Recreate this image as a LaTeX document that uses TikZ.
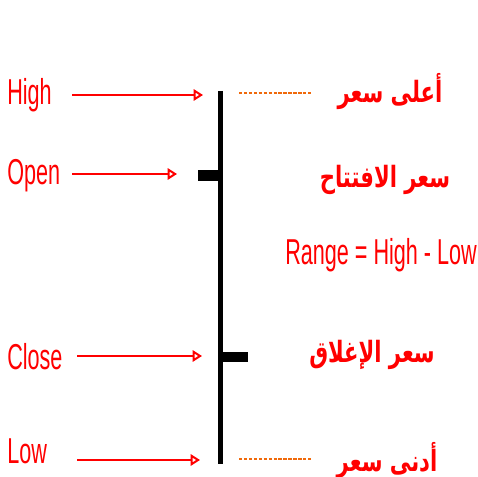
\documentclass[tikz,border=0pt]{standalone}
\usepackage{fontspec}
\usetikzlibrary{arrows.meta}
\TeXXeTstate=1
\newfontfamily\labfont[FakeStretch=0.6]{Liberation Sans}
\newfontfamily\arabicfont[Script=Arabic,FakeStretch=0.72]{DejaVu Sans}
\definecolor{lblred}{RGB}{255,0,0}
\definecolor{dotor}{RGB}{240,105,10}
\begin{document}
\begin{tikzpicture}[x=0.75pt,y=-0.75pt,
  lbl/.style={font=\labfont\fontsize{27}{30}\selectfont, text=lblred, inner sep=0pt, anchor=base west},
  arlbl/.style={font=\arabicfont\bfseries\fontsize{22}{26}\selectfont, text=lblred, inner sep=0pt},
  pointer/.style={draw=lblred, line width=1.5pt, -{Triangle[open, length=7pt, width=8.5pt]}},
  dotline/.style={draw=dotor, line width=2.2pt, dash pattern=on 2.5pt off 1.2pt},
  bar/.style={line width=3.75pt, black}]
\fill[white] (0,0) rectangle (478,477);
\useasboundingbox (0,0) rectangle (478,477);
% labels
\node[lbl] (high) at (7,105) {High};
\node[lbl] (open) at (7,185) {Open};
\node[lbl] (close) at (7,369) {Close};
\node[lbl] (low) at (7,463) {Low};
\node[lbl] (range) at (285,264) {Range = High - Low};
% arrows
\coordinate (hs) at (72,95);  \coordinate (he) at (203,95);
\coordinate (os) at (72,174); \coordinate (oe) at (177,174);
\coordinate (cs) at (77,356); \coordinate (ce) at (202,356);
\coordinate (ls) at (77,460); \coordinate (le) at (200,460);
\draw[pointer] (hs) -- (he);
\draw[pointer] (os) -- (oe);
\draw[pointer] (cs) -- (ce);
\draw[pointer] (ls) -- (le);
% price bar
\coordinate (bt) at (220.5,91); \coordinate (bb) at (220.5,464);
\draw[bar] (bt) -- (bb);
\fill[black] (198,170) rectangle (222,181);
\fill[black] (219,352) rectangle (248,362);
% dotted lines
\coordinate (d1s) at (239,93); \coordinate (d1e) at (311,93);
\coordinate (d2s) at (239,459); \coordinate (d2e) at (311,459);
\draw[dotline] (d1s) -- (d1e);
\draw[dotline] (d2s) -- (d2e);
% arabic labels
\node[arlbl] (ahigh) at (390,92) {\beginR أعلى سعر\endR};
\node[arlbl] (aopen) at (385,180) {\beginR سعر الافتتاح\endR};
\node[arlbl] (aclose) at (372,355) {\beginR سعر الإغلاق\endR};
\node[arlbl] (alow) at (387,461) {\beginR أدنى سعر\endR};
\end{tikzpicture}
\end{document}
